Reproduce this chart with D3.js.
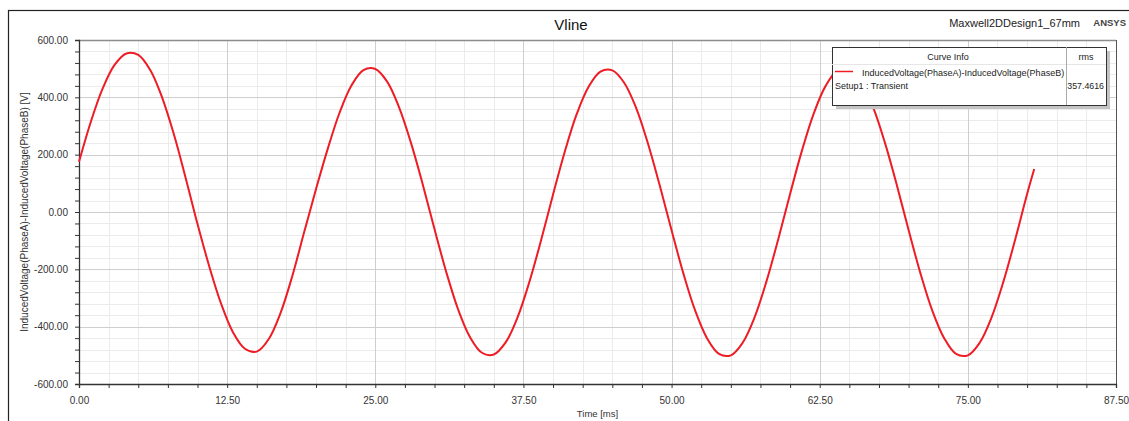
<!DOCTYPE html>
<html>
<head>
<meta charset="utf-8">
<script src="https://cdn.jsdelivr.net/npm/d3@7"></script>
<style>
  body { margin: 0; background: #fff; }
  svg { display: block; font-family: Arial, "Liberation Sans", sans-serif; }
</style>
</head>
<body>
<div id="chart"></div>
<script>
// time samples [ms] and voltage [V]
const timeMs = [
  0, 1, 2, 3, 4, 5, 6, 7, 8, 9,
  10, 11, 12, 13, 14, 15, 16, 17, 18, 19,
  20, 21, 22, 23, 24, 25, 26, 27, 28, 29,
  30, 31, 32, 33, 34, 35, 36, 37, 38, 39,
  40, 41, 42, 43, 44, 45, 46, 47, 48, 49,
  50, 51, 52, 53, 54, 55, 56, 57, 58, 59,
  60, 61, 62, 63, 64, 65, 66, 67, 68, 69,
  70, 71, 72, 73, 74, 75, 76, 77, 78, 79,
  80, 80.6
];
const voltage = [
  175, 315, 431, 513, 553, 548, 496, 401, 272, 119,
  -42, -191, -321, -420, -477, -487, -444, -353, -223, -70,
  80, 222, 348, 442, 495, 499, 455, 366, 243, 97,
  -60, -211, -341, -437, -491, -497, -455, -368, -244, -97,
  61, 212, 342, 437, 490, 494, 451, 364, 240, 93,
  -64, -215, -345, -441, -495, -500, -456, -368, -243, -95,
  63, 214, 344, 440, 493, 497, 453, 366, 242, 95,
  -63, -214, -344, -440, -495, -500, -456, -368, -243, -95,
  63, 150
];
const xTicks = [0, 12.5, 25, 37.5, 50, 62.5, 75, 87.5];
const yTicks = [-600, -400, -200, 0, 200, 400, 600];
const curveName = 'InducedVoltage(PhaseA)-InducedVoltage(PhaseB)';
const setupName = 'Setup1 : Transient';
const rmsValue = '357.4616';

const W = 1129, H = 421;
const margin = { left: 79, top: 40, right: 13, bottom: 37 };
const x0 = margin.left, x1 = W - margin.right;
const y0 = margin.top, y1 = H - margin.bottom;

const svg = d3.select('#chart').append('svg')
  .attr('width', W).attr('height', H);

// outer frame
svg.append('rect')
  .attr('x', 8.5).attr('y', 10.5)
  .attr('width', 1200).attr('height', 600)
  .attr('fill', 'none').attr('stroke', '#222').attr('stroke-width', 1.2);

const x = d3.scaleLinear().domain([0, 87.5]).range([x0, x1]);
const y = d3.scaleLinear().domain([-600, 600]).range([y1, y0]);

const minorX = d3.range(0, 87.5 + 0.001, 2.5);
const minorY = d3.range(-600, 600 + 0.001, 40);

const grid = svg.append('g');
grid.selectAll('.mx').data(minorX).join('line')
  .attr('x1', d => Math.round(x(d)) + 0.5).attr('x2', d => Math.round(x(d)) + 0.5)
  .attr('y1', y0).attr('y2', y1)
  .attr('stroke', '#ebebeb');
grid.selectAll('.my').data(minorY).join('line')
  .attr('y1', d => Math.round(y(d)) + 0.5).attr('y2', d => Math.round(y(d)) + 0.5)
  .attr('x1', x0).attr('x2', x1)
  .attr('stroke', '#ebebeb');
grid.selectAll('.Mx').data(xTicks).join('line')
  .attr('x1', d => Math.round(x(d)) + 0.5).attr('x2', d => Math.round(x(d)) + 0.5)
  .attr('y1', y0).attr('y2', y1)
  .attr('stroke', '#cfcfcf');
grid.selectAll('.My').data(yTicks).join('line')
  .attr('y1', d => Math.round(y(d)) + 0.5).attr('y2', d => Math.round(y(d)) + 0.5)
  .attr('x1', x0).attr('x2', x1)
  .attr('stroke', '#cfcfcf');

// plot borders
svg.append('line').attr('x1', x0).attr('x2', x1).attr('y1', y0 + 0.5).attr('y2', y0 + 0.5)
  .attr('stroke', '#8c8c8c').attr('stroke-width', 1.5);
svg.append('line').attr('x1', x1 + 0.5).attr('x2', x1 + 0.5).attr('y1', y0).attr('y2', y1)
  .attr('stroke', '#555');

// axes
const xAxis = d3.axisBottom(x).tickValues(minorX).tickSize(4)
  .tickFormat(d => xTicks.includes(d) ? d.toFixed(2) : '');
const yAxis = d3.axisLeft(y).tickValues(minorY).tickSize(4)
  .tickFormat(d => yTicks.includes(d) ? d.toFixed(2) : '');

const gx = svg.append('g').attr('transform', `translate(0,${y1})`).call(xAxis);
const gy = svg.append('g').attr('transform', `translate(${x0},0)`).call(yAxis);
[gx, gy].forEach(g => {
  g.select('.domain').attr('stroke', '#333').attr('stroke-width', 1.3);
  g.selectAll('.tick line').attr('stroke', '#333');
  g.selectAll('.tick text').attr('fill', '#333').attr('font-size', 10)
    .attr('font-family', 'Arial, "Liberation Sans", sans-serif');
});
gx.selectAll('.tick text').attr('dy', '1.25em');
gy.selectAll('.tick text').attr('dx', '-4');

// axis titles
svg.append('text').attr('x', (x0 + x1) / 2).attr('y', 417)
  .attr('text-anchor', 'middle').attr('font-size', 9.5).attr('fill', '#333')
  .text('Time [ms]');
svg.append('text')
  .attr('transform', `translate(28,${(y0 + y1) / 2}) rotate(-90)`)
  .attr('text-anchor', 'middle').attr('font-size', 10).attr('fill', '#333')
  .text(curveName + ' [V]');

// curve
const pts = timeMs.map((t, i) => [t, voltage[i]]);
const line = d3.line().x(d => x(d[0])).y(d => y(d[1])).curve(d3.curveCatmullRom);
svg.append('path').datum(pts)
  .attr('d', line)
  .attr('fill', 'none').attr('stroke', '#ee1c25').attr('stroke-width', 2);

// titles
svg.append('text').attr('x', 571).attr('y', 30)
  .attr('text-anchor', 'middle').attr('font-size', 15).attr('fill', '#111')
  .text('Vline');
svg.append('text').attr('x', 1080).attr('y', 27)
  .attr('text-anchor', 'end').attr('font-size', 11).attr('fill', '#222')
  .text('Maxwell2DDesign1_67mm');
svg.append('text').attr('x', 1126).attr('y', 25.5).attr('text-anchor', 'end')
  .attr('font-size', 9.5).attr('font-weight', 'bold')
  .attr('fill', '#444').text('ANSYS');

// legend
const lg = svg.append('g');
const lx = 832, ly = 47, lw = 274, lh = 58;
lg.append('rect').attr('x', lx + 4).attr('y', ly + 4).attr('width', lw).attr('height', lh)
  .attr('fill', '#c4c4c4');
lg.append('rect').attr('x', lx + 0.5).attr('y', ly + 0.5).attr('width', lw).attr('height', lh)
  .attr('fill', '#fff').attr('stroke', '#333');
lg.append('line').attr('x1', lx).attr('x2', lx + lw).attr('y1', ly + 17.5).attr('y2', ly + 17.5)
  .attr('stroke', '#e6e6e6');
lg.append('line').attr('x1', 1066.5).attr('x2', 1066.5).attr('y1', ly).attr('y2', ly + lh)
  .attr('stroke', '#aaa');
lg.append('text').attr('x', 948).attr('y', ly + 13).attr('text-anchor', 'middle')
  .attr('font-size', 9).attr('fill', '#222').text('Curve Info');
lg.append('text').attr('x', 1086).attr('y', ly + 13).attr('text-anchor', 'middle')
  .attr('font-size', 9).attr('fill', '#222').text('rms');
lg.append('line').attr('x1', 835).attr('x2', 853).attr('y1', 71.5).attr('y2', 71.5)
  .attr('stroke', '#ee1c25').attr('stroke-width', 1.5);
lg.append('text').attr('x', 862).attr('y', 76)
  .attr('font-size', 9).attr('fill', '#222').text(curveName);
lg.append('text').attr('x', 835).attr('y', 89)
  .attr('font-size', 9).attr('fill', '#222').text(setupName);
lg.append('text').attr('x', 1104).attr('y', 89).attr('text-anchor', 'end')
  .attr('font-size', 8.8).attr('fill', '#222').text(rmsValue);
</script>
</body>
</html>
